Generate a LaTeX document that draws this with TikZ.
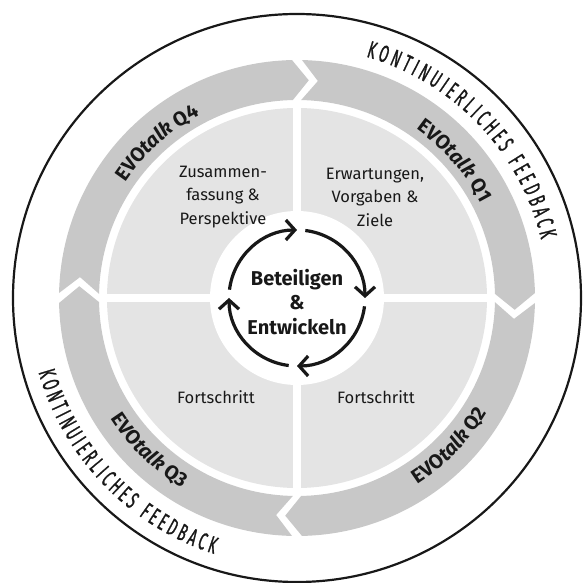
\documentclass[tikz,border=0pt]{standalone}
\usepackage{fontspec}
\setmainfont{Fira Sans}
\newfontfamily\feedbackfont[FakeStretch=0.55, FakeBold=1]{Fira Sans}
\usetikzlibrary{decorations.text,arrows.meta}
\definecolor{bandgray}{RGB}{200,200,200}
\definecolor{quadgray}{RGB}{228,228,228}
\definecolor{ink}{RGB}{24,24,24}
\begin{document}
\begin{tikzpicture}[x=1pt,y=1pt,
  quadtext/.style={align=center, text=ink, font=\fontsize{16.5}{23.5}\selectfont},
  hubtext/.style={align=center, text=ink, font=\bfseries\fontsize{20}{24.5}\selectfont},
  cyclearrow/.style={line width=3.2pt, draw=ink, -{Straight Barb[length=9pt,width=20pt]}},
  bandlabel/.style={decorate, decoration={text along path, text align=center,
    text={|\color{ink}\bfseries\fontsize{20}{20}\selectfont|EVO|\color{ink}\bfseries\itshape\fontsize{20}{20}\selectfont|talk|\color{ink}\bfseries\fontsize{20}{20}\selectfont| Q#1}}},
  feedback/.style={decorate, decoration={text along path, text align={fit to path},
    text={|\color{ink}\feedbackfont\fontsize{24}{24}\selectfont|KONTINUIERLICHES FEEDBACK}}}
]
\useasboundingbox (-297,-285) rectangle (286,298);

% outer ring
\draw[line width=2.2pt, ink] (0,0) circle[radius=284];

% quarterly band: four segments with chevron ends
\def\gapang{1.2}
\def\tipang{4.3}
\foreach \a/\b in {180/90, 90/0, 0/-90, -90/-180}{
  \fill[bandgray] (\a-\gapang:238) arc[start angle=\a-\gapang, end angle=\b+\gapang, radius=238]
    -- (\b+\gapang-\tipang:218) -- (\b+\gapang:198)
    arc[start angle=\b+\gapang, end angle=\a-\gapang, radius=198]
    -- (\a-\gapang-\tipang:218) -- cycle;
}

% inner quadrants
\fill[quadgray] (0,0) circle[radius=190];
\draw[white, line width=8pt] (-193,0) -- (193,0) (0,-193) -- (0,193);
\fill[white] (0,0) circle[radius=87];

% quadrant texts
\node[quadtext] (tl) at (-74,101) {Zusammen-\\fassung \&\\Perspektive};
\node[quadtext] (tr) at (78,101) {Erwartungen,\\Vorgaben \&\\Ziele};
\node[quadtext] (bl) at (-81,-99) {Fortschritt};
\node[quadtext] (br) at (79,-99) {Fortschritt};

% hub
\node[hubtext] (hub) at (0,-4) {Beteiligen\\\&\\Entwickeln};
\foreach \b in {90,0,-90,180}{
  \draw[cyclearrow] (\b-7:68) arc[start angle=\b-7, end angle=\b-90, radius=68];
}

% band labels
\path[bandlabel=4] (162:207) arc[start angle=162, end angle=102, radius=207];
\path[bandlabel=1] (71:207) arc[start angle=71, end angle=11, radius=207];
\path[bandlabel=2] (-74:222) arc[start angle=-74, end angle=-14, radius=222];
\path[bandlabel=3] (-164:222) arc[start angle=-164, end angle=-104, radius=222];

% feedback captions
\path[feedback] (74:251) arc[start angle=74, end angle=13.5, radius=251];
\path[feedback] (196:269) arc[start angle=196, end angle=252, radius=269];
\end{tikzpicture}
\end{document}
